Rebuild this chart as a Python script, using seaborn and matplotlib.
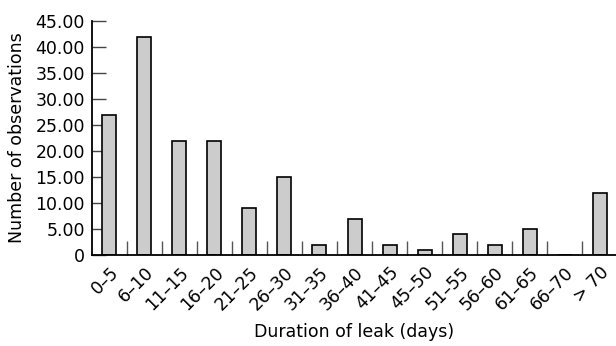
import pandas as pd
import numpy as np
import matplotlib
matplotlib.use("Agg")
import matplotlib.pyplot as plt
import seaborn as sns
from matplotlib.ticker import FixedLocator, FuncFormatter

categories = ["0\u20135", "6\u201310", "11\u201315", "16\u201320", "21\u201325", "26\u201330",
              "31\u201335", "36\u201340", "41\u201345", "45\u201350", "51\u201355", "56\u201360",
              "61\u201365", "66\u201370", "> 70"]
counts = [27, 42, 22, 22, 9, 15, 2, 7, 2, 1, 4, 2, 5, 0, 12]
y_ticks = [0, 5, 10, 15, 20, 25, 30, 35, 40, 45]

df = pd.DataFrame({"duration": categories, "n": counts})

sns.set_style("white", {"text.color": "black", "axes.labelcolor": "black",
                        "xtick.color": "black", "ytick.color": "black"})
plt.rcParams["font.family"] = ["DejaVu Sans"]

fig = plt.figure(figsize=(6.16, 3.46), dpi=100)
ax = fig.add_axes([0.149, 0.263, 0.853, 0.676])

sns.barplot(data=df, x="duration", y="n", color="#cccccc", edgecolor="black",
            linewidth=1.2, width=0.4, saturation=1, ax=ax)

ax.set_xlim(-0.5, len(categories) - 0.5)
ax.set_ylim(0, 45)
ax.set_yticks(y_ticks)
ax.yaxis.set_major_formatter(FuncFormatter(lambda v, p: "0" if v == 0 else f"{v:.2f}"))
ax.tick_params(axis="y", left=True, direction="in", length=10, width=1, color="#444444",
               labelcolor="black", labelsize=12.5, pad=5)

# labels sit under the bars, tick marks sit between them
ax.tick_params(axis="x", which="major", bottom=True, length=0, labelcolor="black",
               labelsize=12.5, pad=6)
ax.xaxis.set_minor_locator(FixedLocator(np.arange(0.5, len(categories) - 1, 1)))
ax.tick_params(axis="x", which="minor", bottom=True, direction="in", length=10, width=1,
               color="#555555")
plt.setp(ax.get_xticklabels(), rotation=45, ha="right", rotation_mode="anchor")

for s in ["top", "right"]:
    ax.spines[s].set_visible(False)
for s in ["left", "bottom"]:
    ax.spines[s].set_color("black")
    ax.spines[s].set_linewidth(1.3)

ax.set_xlabel("Duration of leak (days)", fontsize=12.5, labelpad=7)
ax.set_ylabel("Number of observations", fontsize=12.5)
ax.yaxis.set_label_coords(-0.125, 0.5)

fig.savefig("out.png", dpi=100)
